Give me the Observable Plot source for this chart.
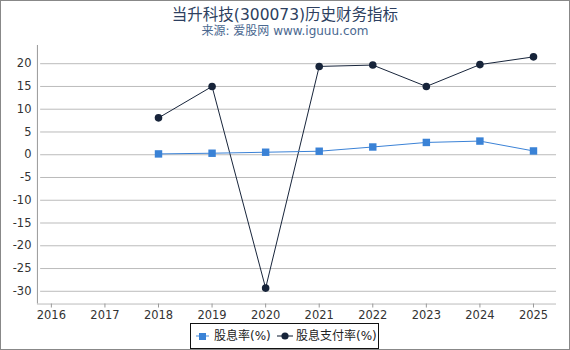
<!DOCTYPE html>
<html><head><meta charset="utf-8">
<script src="https://cdn.jsdelivr.net/npm/d3@7"></script>
<script src="https://cdn.jsdelivr.net/npm/@observablehq/plot@0.6"></script>
<style>
body{margin:0;background:#fff;font-family:"DejaVu Sans","Noto Sans CJK SC",sans-serif;}
#wrap{position:relative;width:568px;height:348px;border:1px solid #888;overflow:hidden;}
#title{position:absolute;top:1px;left:0;width:100%;text-align:center;font-size:15.5px;color:#2d3f5f;}
#sub{position:absolute;top:20px;left:0;width:100%;text-align:center;font-size:12px;color:#4a6890;}
#chart{position:absolute;top:39px;left:-1px;}
#legend{position:absolute;top:322px;left:189px;width:187px;height:24px;border:1px solid #111;font-size:12px;color:#222;white-space:nowrap;}
#legend svg, #legend span{position:absolute;top:0;}
#legend span{line-height:24px;}
</style></head>
<body><div id="wrap">
<div id="title">当升科技(300073)历史财务指标</div>
<div id="sub">来源: 爱股网 www.iguuu.com</div>
<div id="chart"></div>
<div id="legend"></div>
</div>
<script>
const years = [2018, 2019, 2020, 2021, 2022, 2023, 2024, 2025];
const dividendYield = [0.18, 0.33, 0.55, 0.77, 1.7, 2.7, 3.0, 0.83];
const payoutRatio = [8.1, 15.0, -29.3, 19.4, 19.7, 15.0, 19.8, 21.5];
const xTicks = [2016, 2017, 2018, 2019, 2020, 2021, 2022, 2023, 2024, 2025];
const yTicks = [-30, -25, -20, -15, -10, -5, 0, 5, 10, 15, 20];
const names = ["股息率(%)", "股息支付率(%)"];
const colors = ["#3a82d6", "#17243a"];

const yieldData = years.map((y, i) => ({year: y, v: dividendYield[i]}));
const payoutData = years.map((y, i) => ({year: y, v: payoutRatio[i]}));
const xDom = [2015.74, 2025.43], yDom = [-32.8, 24];

const plot = Plot.plot({
  width: 570, height: 285,
  marginLeft: 37, marginRight: 13, marginTop: 5, marginBottom: 21,
  style: {fontFamily: "DejaVu Sans, sans-serif", fontSize: "11.5px", color: "#333", background: "transparent"},
  x: {domain: xDom, label: null},
  y: {domain: yDom, label: null},
  marks: [
    Plot.ruleY(yTicks, {x1: 2015.80, x2: xDom[1], stroke: "#bbb"}),
    Plot.ruleX([xDom[0]], {stroke: "#999"}),
    Plot.ruleY([yDom[0]], {stroke: "#bbb"}),
    Plot.axisY({ticks: yTicks, tickSize: 0, tickPadding: 6, tickFormat: d => String(d), fill: "#333", label: null}),
    Plot.axisX({ticks: xTicks, tickSize: 4, tickPadding: 3, tickFormat: d => String(d), stroke: "#999", fill: "#333", label: null}),
    Plot.line(payoutData, {x: "year", y: "v", stroke: colors[1], strokeWidth: 1}),
    Plot.dot(payoutData, {x: "year", y: "v", fill: colors[1], r: 3.8, symbol: "circle"}),
    Plot.line(yieldData, {x: "year", y: "v", stroke: colors[0], strokeWidth: 1}),
    Plot.dot(yieldData, {x: "year", y: "v", fill: colors[0], r: 4.2, symbol: "square"})
  ]
});
document.getElementById("chart").appendChild(plot);

const leg = document.getElementById("legend");
leg.innerHTML =
  `<svg style="left:5px" width="13" height="24"><line x1="0" y1="12" x2="13" y2="12" stroke="${colors[0]}" stroke-width="1.5" opacity="0.6"/><rect x="3" y="9" width="7" height="7" fill="${colors[0]}"/></svg>` +
  `<span style="left:23px">${names[0]}</span>` +
  `<svg style="left:86px" width="16" height="24"><line x1="0" y1="12" x2="16" y2="12" stroke="${colors[1]}" stroke-width="1.5" opacity="0.7"/><circle cx="8" cy="12" r="3.6" fill="${colors[1]}"/></svg>` +
  `<span style="left:105px">${names[1]}</span>`;
</script>
</body></html>
